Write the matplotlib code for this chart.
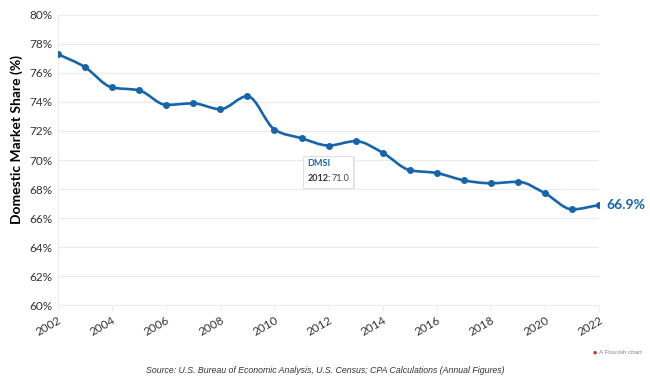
import numpy as np
import matplotlib.pyplot as plt
from matplotlib.path import Path
from matplotlib.patches import PathPatch, Rectangle, Polygon
from matplotlib.transforms import ScaledTranslation

years = list(range(2002, 2023))
share = [77.3, 76.4, 75.0, 74.8, 73.8, 73.9, 73.5, 74.4, 72.1, 71.5, 71.0,
         71.3, 70.5, 69.3, 69.1, 68.6, 68.4, 68.5, 67.7, 66.6, 66.9]
y_ticks = [60, 62, 64, 66, 68, 70, 72, 74, 76, 78, 80]
x_ticks = list(range(2002, 2023, 2))

BLUE = '#1665ab'
plt.rcParams['font.family'] = ['Lato', 'DejaVu Sans']


def monotone_path(x, y):
    # monotone cubic (like d3 curveMonotoneX) drawn as bezier segments
    x = np.asarray(x, float)
    y = np.asarray(y, float)
    h = np.diff(x)
    s = np.diff(y) / h
    m = np.zeros_like(y)
    for i in range(1, len(y) - 1):
        if s[i - 1] * s[i] > 0:
            p = (s[i - 1] * h[i] + s[i] * h[i - 1]) / (h[i - 1] + h[i])
            m[i] = (np.sign(s[i - 1]) + np.sign(s[i])) * min(abs(s[i - 1]), abs(s[i]), 0.5 * abs(p))
    m[0] = s[0]
    m[-1] = s[-1]
    verts = [(x[0], y[0])]
    codes = [Path.MOVETO]
    for i in range(len(x) - 1):
        d = h[i] / 3
        verts += [(x[i] + d, y[i] + m[i] * d), (x[i + 1] - d, y[i + 1] - m[i + 1] * d), (x[i + 1], y[i + 1])]
        codes += [Path.CURVE4] * 3
    return Path(verts, codes)


fig = plt.figure(figsize=(6.5, 3.81), dpi=100)
ax = fig.add_axes([0.089, 0.199, 0.833, 0.762])

ax.add_patch(PathPatch(monotone_path(years, share), fill=False, color=BLUE, lw=1.9,
                       capstyle='round', joinstyle='round', zorder=3))
ax.plot(years, share, 'o', color=BLUE, ms=4, zorder=4)

ax.set_xlim(2002, 2022)
ax.set_ylim(60, 80)
ax.set_yticks(y_ticks)
ax.set_yticklabels([f'{v}%' for v in y_ticks])
ax.set_xticks(x_ticks)
ax.set_xticklabels([str(v) for v in x_ticks], rotation=30, ha='right', rotation_mode='anchor')
ax.tick_params(axis='y', length=0, labelsize=8.5, labelcolor='#333333', pad=4)
ax.tick_params(axis='x', length=4, color='#eeeeee', labelsize=8.5, labelcolor='#333333', pad=3)
ax.grid(axis='y', color='#ececec', lw=0.8)
for sp in ['top', 'right']:
    ax.spines[sp].set_visible(False)
ax.spines['left'].set_color('#eeeeee')
ax.spines['bottom'].set_color('#eeeeee')
ax.set_ylabel('Domestic Market Share (%)', fontsize=10, fontweight='bold')
ax.yaxis.set_label_coords(-0.065, 0.57)

ax.annotate(f'{share[-1]:.1f}%', (years[-1], share[-1]), xytext=(5, 0),
            textcoords='offset points', va='center', ha='left',
            color=BLUE, fontsize=10, fontweight='bold', annotation_clip=False)

# tooltip under the 2012 point, sizes in pixels / 100 (inches)
tx, ty = years[10], share[10]
tip = fig.dpi_scale_trans + ScaledTranslation(tx, ty, ax.transData)
ax.add_patch(Rectangle((-0.25, -0.43), 0.51, 0.33, transform=tip, fc='#e6e6e6', ec='none',
                       zorder=5, clip_on=False))
ax.add_patch(Rectangle((-0.26, -0.42), 0.5, 0.32, transform=tip, fc='white', ec='#dcdcdc',
                       lw=0.6, zorder=6, clip_on=False))
ax.add_patch(Polygon([(-0.05, -0.101), (0.0, -0.06), (0.05, -0.101)], transform=tip,
                     fc='white', ec='none', zorder=7, clip_on=False))
ax.text(-0.21, -0.18, 'DMSI', transform=tip, fontsize=6.5, fontweight='bold', color=BLUE,
        va='center', ha='left', zorder=8)
ax.text(-0.21, -0.33, '2012:', transform=tip, fontsize=6.5, fontweight='bold', color='#333333',
        va='center', ha='left', zorder=8)
ax.text(0.03, -0.33, '71.0', transform=tip, fontsize=6.5, color='#444444',
        va='center', ha='left', zorder=8)

fig.text(0.5, 0.028, 'Source: U.S. Bureau of Economic Analysis, U.S. Census; CPA Calculations (Annual Figures)',
         ha='center', va='center', fontsize=6.3, style='italic', color='#333333',
         family=['Liberation Sans', 'DejaVu Sans'])
fig.text(0.922, 0.075, 'A Flourish chart', ha='left', va='center', fontsize=4.5, color='#888888',
         family=['Liberation Sans', 'DejaVu Sans'])
fig.text(0.918, 0.075, '\u25cf', ha='right', va='center', fontsize=5, color='#d22020')

fig.savefig('out.png', dpi=100)
